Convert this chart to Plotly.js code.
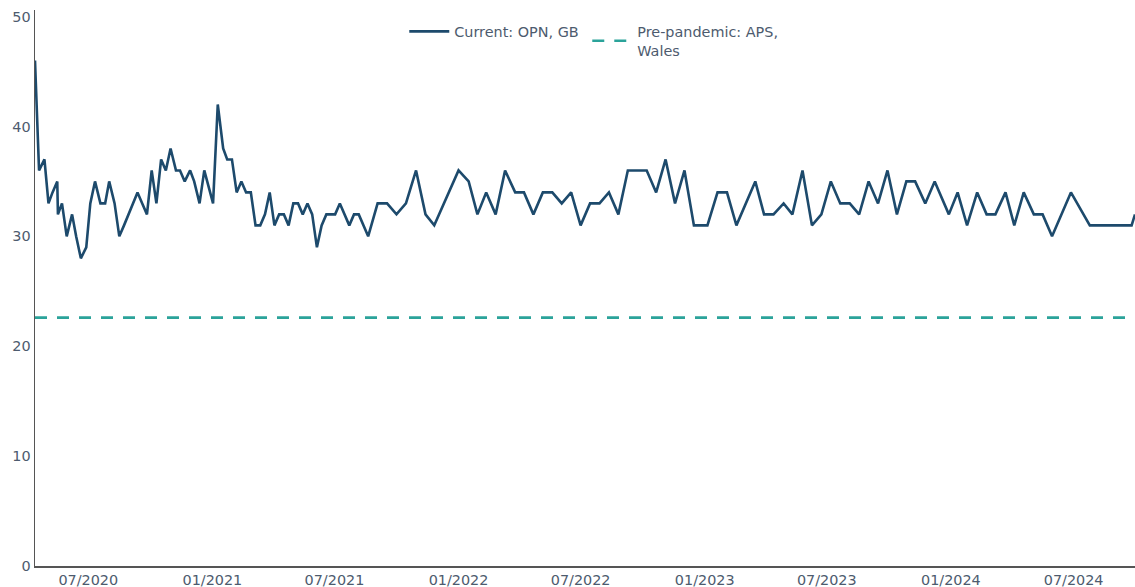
<!DOCTYPE html>
<html>
<head>
<meta charset="utf-8">
<script src="https://cdn.plot.ly/plotly-3.0.1.min.js"></script>
<style>
  html, body { margin: 0; padding: 0; background: #ffffff; }
  #chart { width: 1135px; height: 587px; }
</style>
</head>
<body>
<div id="chart"></div>
<script>
// Survey dates (OPN, GB)
const dates = [
  "2020-04-13","2020-04-19","2020-04-27","2020-05-03","2020-05-09","2020-05-16","2020-05-17","2020-05-23","2020-05-30","2020-06-07",
  "2020-06-13","2020-06-20","2020-06-28","2020-07-04","2020-07-11","2020-07-19","2020-07-26","2020-08-01","2020-08-09","2020-08-16",
  "2020-08-23","2020-08-30","2020-09-05","2020-09-12","2020-09-19","2020-09-26","2020-10-03","2020-10-10","2020-10-17","2020-10-24",
  "2020-10-31","2020-11-08","2020-11-14","2020-11-21","2020-11-29","2020-12-05","2020-12-13","2020-12-20","2021-01-02","2021-01-09",
  "2021-01-17","2021-01-23","2021-01-30","2021-02-06","2021-02-13","2021-02-20","2021-02-27","2021-03-06","2021-03-13","2021-03-20",
  "2021-03-27","2021-04-03","2021-04-10","2021-04-17","2021-04-24","2021-05-01","2021-05-08","2021-05-15","2021-05-22","2021-05-29",
  "2021-06-05","2021-06-12","2021-06-19","2021-07-02","2021-07-09","2021-07-23","2021-07-30","2021-08-06","2021-08-20","2021-09-03",
  "2021-09-17","2021-10-01","2021-10-15","2021-10-30","2021-11-13","2021-11-26","2022-01-01","2022-01-16","2022-01-29","2022-02-11",
  "2022-02-25","2022-03-11","2022-03-26","2022-04-08","2022-04-22","2022-05-06","2022-05-20","2022-06-03","2022-06-17","2022-07-01",
  "2022-07-15","2022-07-29","2022-08-12","2022-08-26","2022-09-09","2022-09-23","2022-10-07","2022-10-21","2022-11-04","2022-11-18",
  "2022-12-02","2022-12-16","2023-01-05","2023-01-20","2023-02-03","2023-02-17","2023-03-03","2023-03-17","2023-03-30","2023-04-13",
  "2023-04-28","2023-05-11","2023-05-26","2023-06-09","2023-06-23","2023-07-07","2023-07-21","2023-08-04","2023-08-18","2023-09-01",
  "2023-09-15","2023-09-29","2023-10-13","2023-10-27","2023-11-09","2023-11-24","2023-12-08","2023-12-29","2024-01-11","2024-01-25",
  "2024-02-09","2024-02-23","2024-03-07","2024-03-22","2024-04-04","2024-04-18","2024-05-03","2024-05-16","2024-05-30","2024-06-27",
  "2024-07-25","2024-09-25","2024-09-30"
];

// Current: OPN, GB (%)
const currentOPN = [
  46,36,37,33,34,35,32,33,30,32,
  30,28,29,33,35,33,33,35,33,30,
  31,32,33,34,33,32,36,33,37,36,
  38,36,36,35,36,35,33,36,33,42,
  38,37,37,34,35,34,34,31,31,32,
  34,31,32,32,31,33,33,32,33,32,
  29,31,32,32,33,31,32,32,30,33,
  33,32,33,36,32,31,36,35,32,34,
  32,36,34,34,32,34,34,33,34,31,
  33,33,34,32,36,36,36,34,37,33,
  36,31,31,34,34,31,33,35,32,32,
  33,32,36,31,32,35,33,33,32,35,
  33,36,32,35,35,33,35,32,34,31,
  34,32,32,34,31,34,32,32,30,34,
  31,31,32
];

// Pre-pandemic: APS, Wales (%)
const prePandemicAPS = 22.6;

const seriesNames = ["Current: OPN, GB", "Pre-pandemic: APS,<br>Wales"];
const yTickVals = [0, 10, 20, 30, 40, 50];

const textColor = "#4d5b6e";
const fontFam = "Verdana, 'DejaVu Sans', sans-serif";
const fontSize = 14.4;

const traces = [
  {
    type: "scatter",
    mode: "lines",
    name: seriesNames[0],
    x: dates,
    y: currentOPN,
    line: { color: "#1d4a6c", width: 2.6 },
    legendwidth: 128,
    hoverinfo: "x+y"
  },
  {
    type: "scatter",
    mode: "lines",
    name: seriesNames[1],
    x: [dates[0], dates[dates.length - 1]],
    y: [prePandemicAPS, prePandemicAPS],
    line: { color: "#2ba39a", width: 2.6, dash: "12px,10px" },
    legendwidth: 150,
    hoverinfo: "y"
  }
];

const layout = {
  width: 1135,
  height: 587,
  margin: { l: 35, r: 0, t: 10, b: 21, pad: 0 },
  paper_bgcolor: "#ffffff",
  plot_bgcolor: "#ffffff",
  font: { family: fontFam, size: fontSize, color: textColor },
  showlegend: true,
  legend: {
    orientation: "h",
    x: 0.3357,
    xanchor: "left",
    y: 0.99,
    yanchor: "top",
    font: { family: fontFam, size: fontSize, color: textColor },
    itemwidth: 40,
    bgcolor: "rgba(0,0,0,0)"
  },
  xaxis: {
    type: "date",
    autorange: true,
    showgrid: false,
    zeroline: false,
    showline: true,
    linecolor: "#555555",
    linewidth: 1.5,
    ticks: "",
    dtick: "M6",
    tick0: "2020-07-01",
    tickformat: "%m/%Y",
    tickfont: { family: fontFam, size: fontSize, color: textColor }
  },
  yaxis: {
    range: [0, 50.6],
    showgrid: false,
    zeroline: false,
    showline: true,
    linecolor: "#555555",
    linewidth: 1.5,
    ticks: "",
    tickvals: yTickVals,
    tickfont: { family: fontFam, size: fontSize, color: textColor }
  }
};

Plotly.newPlot("chart", traces, layout, { displayModeBar: false, staticPlot: true });
</script>
</body>
</html>
